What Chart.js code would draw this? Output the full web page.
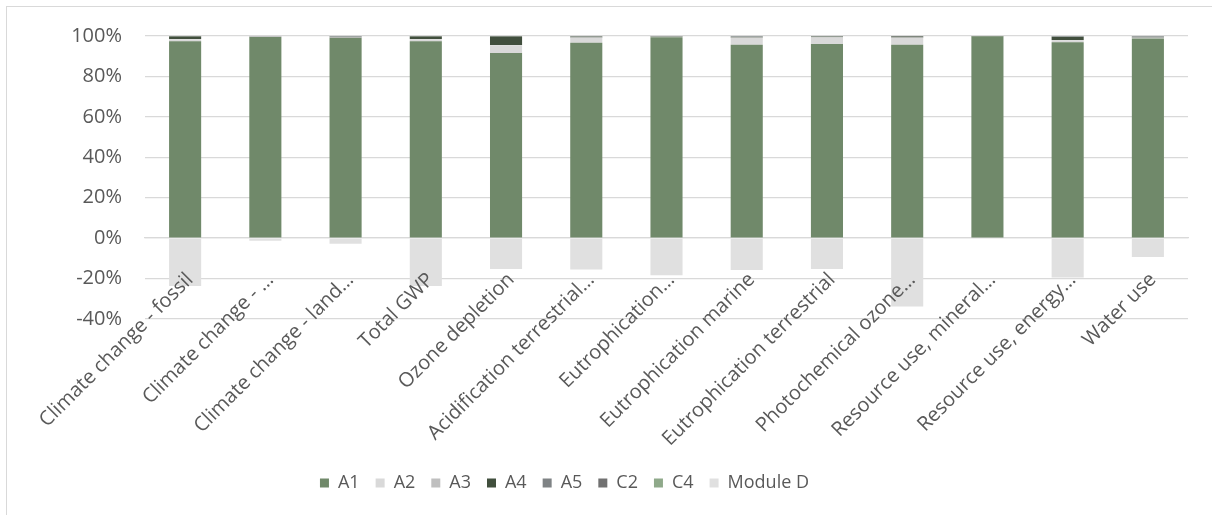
<!DOCTYPE html>
<html>
<head>
<meta charset="utf-8">
<script src="https://cdn.jsdelivr.net/npm/chart.js@4/dist/chart.umd.min.js"></script>
<style>
  html, body { margin: 0; padding: 0; background: #fff; overflow: hidden; }
  #frame { position: absolute; left: 6px; top: 6px; width: 1400px; height: 700px; border: 1px solid #d9d9d9; }
  #chart { position: absolute; left: 0; top: 0; }
</style>
</head>
<body>
<div id="frame"></div>
<canvas id="chart" width="1212" height="515"></canvas>
<script>
const categories = [
    "Climate change - fossil", "Climate change - \u2026", "Climate change - land\u2026",
    "Total GWP", "Ozone depletion", "Acidification terrestrial\u2026", "Eutrophication\u2026",
    "Eutrophication marine", "Eutrophication terrestrial", "Photochemical ozone\u2026",
    "Resource use, mineral\u2026", "Resource use, energy\u2026", "Water use"
];

// share of each module, in %
const a1 = [97.4, 99.5, 99.0, 97.4, 91.6, 96.6, 99.4, 95.7, 96.1, 95.7, 99.9, 96.9, 98.8];
const a2 = [1.0, 0.1, 0.1, 1.0, 3.8, 2.6, 0.1, 3.4, 3.1, 3.4, 0.0, 1.0, 0.2];
const a3 = [0.1, 0.1, 0.2, 0.1, 0.2, 0.1, 0.1, 0.2, 0.2, 0.1, 0.0, 0.1, 0.2];
const a4 = [1.2, 0.1, 0.2, 1.2, 4.1, 0.3, 0.1, 0.2, 0.2, 0.6, 0.0, 1.5, 0.3];
const a5 = [0.1, 0.1, 0.2, 0.1, 0.1, 0.2, 0.1, 0.3, 0.2, 0.1, 0.0, 0.2, 0.2];
const c2 = [0.1, 0.1, 0.2, 0.1, 0.1, 0.1, 0.1, 0.1, 0.1, 0.1, 0.1, 0.2, 0.2];
const c4 = [0.1, 0.0, 0.1, 0.1, 0.1, 0.1, 0.1, 0.1, 0.1, 0.0, 0.0, 0.1, 0.1];
const moduleD = [-23.7, -1.3, -2.8, -23.7, -15.3, -15.5, -18.3, -15.8, -15.3, -33.8, 0, -19.5, -9.3];

const yTicks = [-40, -20, 0, 20, 40, 60, 80, 100];

const textColor = "#595959";
const gridColor = "#d9d9d9";
const fontFamily = "'Open Sans', 'Noto Sans', sans-serif";

function series(label, data, color) {
    return {
        label: label,
        data: data,
        backgroundColor: color,
        borderWidth: 0,
        categoryPercentage: 1,
        barPercentage: 0.4
    };
}

// move the legend where Excel put it
const legendMover = {
    id: "legendMover",
    beforeDraw(chart) {
        const lg = chart.legend;
        const h = lg.height;
        lg.left = 6;
        lg.right = 1123;
        lg.top = 458;
        lg.bottom = lg.top + h;
    }
};

new Chart(document.getElementById("chart"), {
    type: "bar",
    data: {
        labels: categories,
        datasets: [
            series("A1", a1, "#70896a"),
            series("A2", a2, "#d9d9d9"),
            series("A3", a3, "#bfbfbf"),
            series("A4", a4, "#414f3d"),
            series("A5", a5, "#7f8385"),
            series("C2", c2, "#717171"),
            series("C4", c4, "#8fa98a"),
            series("Module D", moduleD, "#e0e0e0")
        ]
    },
    plugins: [legendMover],
    options: {
        responsive: false,
        animation: false,
        layout: { padding: { left: 0, right: 24, top: 36, bottom: 152 } },
        scales: {
            x: {
                stacked: true,
                position: { y: 0 },
                grid: { display: false },
                border: { display: true, color: gridColor, width: 1.3 },
                ticks: {
                    z: 1,
                    autoSkip: false,
                    minRotation: 45,
                    maxRotation: 45,
                    padding: 22,
                    labelOffset: 5,
                    color: textColor,
                    font: { family: fontFamily, size: 20 }
                }
            },
            y: {
                stacked: true,
                min: -40,
                max: 100,
                afterFit(scale) { scale.width = 145; },
                afterBuildTicks(scale) { scale.ticks = yTicks.map(v => ({ value: v })); },
                grid: { color: gridColor, lineWidth: 1.3, drawTicks: false },
                border: { display: false },
                ticks: {
                    padding: 23,
                    color: textColor,
                    font: { family: fontFamily, size: 20 },
                    callback: v => v + "%"
                }
            }
        },
        plugins: {
            legend: {
                position: "bottom",
                labels: {
                    boxWidth: 9,
                    boxHeight: 9,
                    padding: 16,
                    color: textColor,
                    font: { family: fontFamily, size: 18 }
                }
            },
            tooltip: { enabled: false }
        }
    }
});
</script>
</body>
</html>
